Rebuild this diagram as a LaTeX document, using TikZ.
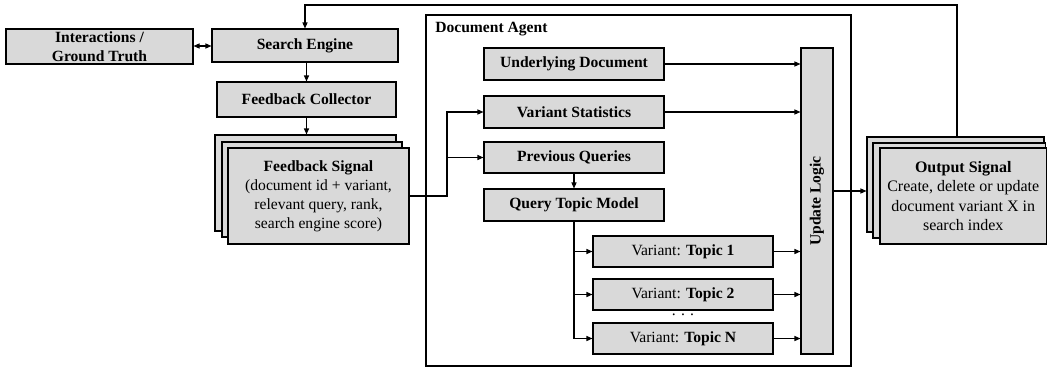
\documentclass[tikz,border=0pt]{standalone}
\usepackage{fontspec}
\setmainfont{Liberation Serif}
\usetikzlibrary{arrows.meta,fit,positioning}
\definecolor{boxgray}{HTML}{D9D9D9}
\tikzset{
  box/.style={draw=black, fill=boxgray, line width=0.8pt, inner sep=0pt, align=center,
    font=\fontsize{11.7}{14.3}\selectfont},
  boldbox/.style={box, font=\fontsize{11.7}{14.3}\selectfont\bfseries},
  arr/.style={line width=0.8pt, -{Triangle[length=4.5pt,width=3.8pt]}},
  dbl/.style={line width=0.8pt, {Triangle[length=4.5pt,width=3.8pt]}-{Triangle[length=4.5pt,width=3.8pt]}},
  agent/.style={draw=black, line width=1.8pt, inner sep=0pt},
  lbl/.style={inner sep=0pt, font=\fontsize{11.7}{14.3}\selectfont}
}
\begin{document}
\begin{tikzpicture}[x=0.75pt,y=-0.75pt]
\useasboundingbox (0,0) rectangle (1047,368);

% Document agent frame
\node[agent, fit={(426,15)(851,366)}] (agent) {};
\node[lbl, anchor=west, font=\fontsize{11.7}{14.3}\selectfont\bfseries] (agentlbl) at (435,29) {Document Agent};

% left column
\node[boldbox, minimum width=140.25pt, minimum height=26.25pt] (inter) at (99.5,46.5) {Interactions /\\Ground Truth};
\node[boldbox, minimum width=139.5pt, minimum height=24.75pt] (se) at (305,45.5) {Search Engine};
\node[boldbox, minimum width=134.25pt, minimum height=26.25pt] (fc) at (306.5,99.5) {Feedback Collector};
\node[box, minimum width=135.75pt, minimum height=72pt] (fbB) at (305.5,183) {};
\node[box, minimum width=135pt, minimum height=71.25pt] (fbM) at (312,189.5) {};
\node[box, minimum width=135.75pt, minimum height=72pt] (fbF) at (318.5,196) {\textbf{Feedback Signal}\\(document id + variant,\\relevant query, rank,\\search engine score)};

% inner agent boxes
\node[boldbox, minimum width=135pt, minimum height=24pt] (ud) at (574,64) {Underlying Document};
\node[boldbox, minimum width=135pt, minimum height=24pt] (vs) at (574,112) {Variant Statistics};
\node[boldbox, minimum width=135pt, minimum height=23.25pt] (pq) at (574,157.5) {Previous Queries};
\node[boldbox, minimum width=135pt, minimum height=24pt] (qtm) at (574,205) {Query Topic Model};
\node[box, minimum width=135pt, minimum height=23.25pt] (t1) at (683,251.5) {Variant: \textbf{Topic 1}};
\node[box, minimum width=135pt, minimum height=23.25pt] (t2) at (683,294.5) {Variant: \textbf{Topic 2}};
\node[box, minimum width=135pt, minimum height=23.25pt] (tn) at (683,338.5) {Variant: \textbf{Topic N}};
\node[lbl] (dots) at (683,315) {. . .};
\node[box, minimum width=24pt, minimum height=229.5pt] (ul) at (817,201) {};
\node[lbl, rotate=90, font=\fontsize{11.7}{14.3}\selectfont\bfseries] (ullbl) at (ul.center) {Update Logic};

% output stack
\node[box, minimum width=132.75pt, minimum height=71.25pt] (outB) at (955.5,184.5) {};
\node[box, minimum width=129.4pt, minimum height=71.25pt] (outM) at (959.25,190.5) {};
\node[box, minimum width=124.9pt, minimum height=72pt, font=\fontsize{12}{14.5}\selectfont] (outF) at (963.25,196) {\textbf{Output Signal}\\Create, delete or update\\document variant X in\\search index};

% coordinates
\coordinate (loop) at (957,5);
\coordinate (split) at (447,196);
\coordinate (oy) at (0,191);

% connectors
\draw[dbl] (inter.east |- 0,46) -- (se.west |- 0,46);
\draw[arr] (outB.north -| loop) -- (loop) -| (se.north);
\draw[arr] (se.south) -- (fc.south |- se.south) -- (fc.north);
\draw[arr] (fc.south) -- (fc.south |- fbB.north);
\draw[arr] (fbF.east) -- (split) |- (vs.west);
\draw[arr] (split |- pq.west) -- (pq.west);
\draw[arr] (pq.south) -- (qtm.north);
\draw[arr] (qtm.south) |- (t1.west);
\draw[arr] (qtm.south |- t2.west) -- (t2.west);
\draw[arr] (qtm.south |- t1.west) |- (tn.west);
\draw[arr] (ud.east) -- (ul.west |- ud.east);
\draw[arr] (vs.east) -- (ul.west |- vs.east);
\draw[arr] (t1.east) -- (ul.west |- t1.east);
\draw[arr] (t2.east) -- (ul.west |- t2.east);
\draw[arr] (tn.east) -- (ul.west |- tn.east);
\draw[arr] (ul.east |- oy) -- (outB.west |- oy);
\end{tikzpicture}
\end{document}
